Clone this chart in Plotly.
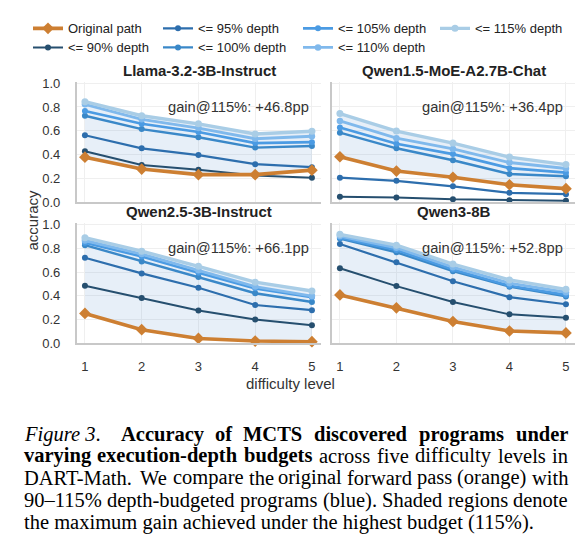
import plotly.graph_objects as go

W, H = 586, 559

# ---------------- data ----------------
levels = [1, 2, 3, 4, 5]
model_names = ["Llama-3.2-3B-Instruct", "Qwen1.5-MoE-A2.7B-Chat", "Qwen2.5-3B-Instruct", "Qwen3-8B"]
gain_labels = ["gain@115%: +46.8pp", "gain@115%: +36.4pp", "gain@115%: +66.1pp", "gain@115%: +52.8pp"]
original_name = "Original path"
budget_names = ["<= 90% depth", "<= 95% depth", "<= 100% depth", "<= 105% depth", "<= 110% depth", "<= 115% depth"]

llama_original = [0.377, 0.277, 0.230, 0.230, 0.268]
llama_90 = [0.427, 0.312, 0.271, 0.222, 0.203]
llama_95 = [0.562, 0.452, 0.395, 0.318, 0.293]
llama_100 = [0.726, 0.614, 0.545, 0.458, 0.471]
llama_105 = [0.767, 0.658, 0.589, 0.496, 0.504]
llama_110 = [0.822, 0.696, 0.622, 0.532, 0.553]
llama_115 = [0.845, 0.726, 0.658, 0.573, 0.595]

qwen15_original = [0.381, 0.260, 0.208, 0.145, 0.112]
qwen15_90 = [0.044, 0.038, 0.022, 0.014, 0.011]
qwen15_95 = [0.205, 0.178, 0.132, 0.077, 0.066]
qwen15_100 = [0.584, 0.452, 0.351, 0.236, 0.216]
qwen15_105 = [0.627, 0.490, 0.403, 0.285, 0.247]
qwen15_110 = [0.682, 0.537, 0.447, 0.332, 0.282]
qwen15_115 = [0.745, 0.597, 0.496, 0.378, 0.315]

qwen25_original = [0.252, 0.115, 0.041, 0.019, 0.014]
qwen25_90 = [0.485, 0.381, 0.277, 0.200, 0.153]
qwen25_95 = [0.721, 0.589, 0.468, 0.323, 0.279]
qwen25_100 = [0.827, 0.690, 0.559, 0.422, 0.348]
qwen25_105 = [0.847, 0.732, 0.595, 0.463, 0.389]
qwen25_110 = [0.866, 0.752, 0.615, 0.478, 0.398]
qwen25_115 = [0.890, 0.776, 0.649, 0.515, 0.441]

qwen3_original = [0.408, 0.299, 0.184, 0.104, 0.088]
qwen3_90 = [0.633, 0.482, 0.348, 0.244, 0.216]
qwen3_95 = [0.836, 0.682, 0.523, 0.389, 0.329]
qwen3_100 = [0.882, 0.767, 0.608, 0.477, 0.395]
qwen3_105 = [0.890, 0.786, 0.622, 0.485, 0.408]
qwen3_110 = [0.904, 0.805, 0.641, 0.507, 0.430]
qwen3_115 = [0.918, 0.827, 0.668, 0.534, 0.455]

originals = [llama_original, qwen15_original, qwen25_original, qwen3_original]
budget_series = [
    [llama_90, llama_95, llama_100, llama_105, llama_110, llama_115],
    [qwen15_90, qwen15_95, qwen15_100, qwen15_105, qwen15_110, qwen15_115],
    [qwen25_90, qwen25_95, qwen25_100, qwen25_105, qwen25_110, qwen25_115],
    [qwen3_90, qwen3_95, qwen3_100, qwen3_105, qwen3_110, qwen3_115],
]

y_ticks = [0.0, 0.2, 0.4, 0.6, 0.8, 1.0]

caption_lines = [
    [("Figure 3", "i"), ("Accuracy", "b"), ("of", "b"), ("MCTS", "b"), ("discovered", "b"), ("programs", "b"), ("under", "b")],
    [("varying", "b"), ("execution-depth", "b"), ("budgets", "b"), ("across", "r"), ("five", "r"),
     ("difficulty", "r"), ("levels", "r"), ("in", "r")],
    [("DART-Math.", "r"), ("We", "r"), ("compare", "r"), ("the", "r"), ("original", "r"), ("forward", "r"),
     ("pass", "r"), ("(orange)", "r"), ("with", "r")],
    [("90–115%", "r"), ("depth-budgeted", "r"), ("programs", "r"), ("(blue).", "r"), ("Shaded", "r"),
     ("regions", "r"), ("denote", "r")],
    [("the maximum gain achieved under the highest budget (115%).", "r")],
]

# ---------------- styles ----------------
SANS = "Liberation Sans"
SERIF = "Liberation Serif"
ORANGE = "#cd7f32"
BLUE_COLORS = ["#264f6f", "#2d6ead", "#3a88c8", "#4b9be3", "#80b9ec", "#a9cde6"]
BLUE_WIDTHS = [2.0, 2.2, 2.4, 2.6, 2.9, 3.4]
BLUE_MSIZE = [6, 6, 6, 6, 6.5, 7]
FILL = "rgba(96,150,205,0.15)"
GRID = "#efefef"
SPINE = "#c8c8c8"

XD = [[77 / W, 321 / W], [332 / W, 575 / W]]
YD = [[1 - 201 / H, 1 - 78 / H], [1 - 346 / H, 1 - 223 / H]]

fig = go.Figure()

legend_order = [original_name] + budget_names
LEG_TEXT_X = [68, 198, 338, 475]
LEG_ROW_Y = [23, 42.5]


def legend_key(name):
    k = legend_order.index(name)
    return "legend" if k == 0 else f"legend{k + 1}"


for i in range(4):
    xr = "x" if i == 0 else f"x{i + 1}"
    yr = "y" if i == 0 else f"y{i + 1}"
    orig = originals[i]
    top = budget_series[i][-1]
    # shaded gain region
    fig.add_trace(go.Scatter(x=levels, y=orig, mode="lines", line=dict(width=0, color=FILL),
                             showlegend=False, hoverinfo="skip", xaxis=xr, yaxis=yr))
    fig.add_trace(go.Scatter(x=levels, y=top, mode="lines", line=dict(width=0, color=FILL),
                             fill="tonexty", fillcolor=FILL, showlegend=False, hoverinfo="skip",
                             xaxis=xr, yaxis=yr))
    for b, name in enumerate(budget_names):
        fig.add_trace(go.Scatter(
            x=levels, y=budget_series[i][b], mode="lines+markers", name=name,
            line=dict(color=BLUE_COLORS[b], width=BLUE_WIDTHS[b]),
            marker=dict(color=BLUE_COLORS[b], size=BLUE_MSIZE[b], symbol="circle"),
            showlegend=(i == 0), legend=legend_key(name), cliponaxis=False,
            xaxis=xr, yaxis=yr))
    fig.add_trace(go.Scatter(
        x=levels, y=orig, mode="lines+markers", name=original_name,
        line=dict(color=ORANGE, width=3.6),
        marker=dict(color=ORANGE, size=9, symbol="diamond"),
        showlegend=(i == 0), legend=legend_key(original_name), cliponaxis=False,
        xaxis=xr, yaxis=yr))

layout = dict(
    width=W, height=H, margin=dict(l=0, r=0, t=0, b=0),
    paper_bgcolor="white", plot_bgcolor="white",
    font=dict(family=SANS, size=13, color="#333"),
    showlegend=True,
)

for i in range(4):
    r, c = divmod(i, 2)
    xa = "xaxis" if i == 0 else f"xaxis{i + 1}"
    ya = "yaxis" if i == 0 else f"yaxis{i + 1}"
    layout[xa] = dict(
        domain=XD[c], anchor=("y" if i == 0 else f"y{i + 1}"), range=[0.86, 5.16],
        tickvals=levels, ticktext=[str(v) for v in levels], showticklabels=(r == 1),
        showgrid=True, gridcolor=GRID, gridwidth=1, zeroline=False,
        showline=True, linecolor=SPINE, linewidth=2.2, ticks="",
        tickfont=dict(family=SANS, size=13, color="#333"), ticklabelstandoff=10,
    )
    layout[ya] = dict(
        domain=YD[r], anchor=("x" if i == 0 else f"x{i + 1}"), range=[0, 1.01],
        tickvals=y_ticks, ticktext=[f"{v:.1f}" for v in y_ticks], showticklabels=(c == 0),
        showgrid=True, gridcolor=GRID, gridwidth=1, zeroline=False,
        showline=True, linecolor=SPINE, linewidth=2.2, ticks="",
        tickfont=dict(family=SANS, size=13, color="#333"), ticklabelstandoff=12,
    )

for k, name in enumerate(legend_order):
    col, row = divmod(k, 2)
    layout[legend_key(name)] = dict(
        x=(LEG_TEXT_X[col] - 40) / W, xanchor="left",
        y=1 - LEG_ROW_Y[row] / H, yanchor="middle",
        orientation="v", bgcolor="rgba(0,0,0,0)", borderwidth=0,
        font=dict(family=SANS, size=13, color="#222"), itemwidth=30,
    )

annotations = []
for i in range(4):
    r, c = divmod(i, 2)
    xd = "x domain" if i == 0 else f"x{i + 1} domain"
    yd = "y domain" if i == 0 else f"y{i + 1} domain"
    yr = "y" if i == 0 else f"y{i + 1}"
    annotations.append(dict(text=f"<b>{model_names[i]}</b>", xref=xd, yref=yd, x=0.5, y=1.0,
                            xanchor="center", yanchor="bottom", yshift=1, showarrow=False,
                            font=dict(family=SANS, size=15, color="#222")))
    annotations.append(dict(text=gain_labels[i], xref=xd, yref=yr, x=0.96, y=0.80,
                            xanchor="right", yanchor="middle", showarrow=False,
                            font=dict(family=SANS, size=14.7, color="#333")))

annotations.append(dict(text="difficulty level", xref="paper", yref="paper", x=290 / W, y=1 - 387 / H,
                        xanchor="center", yanchor="middle", showarrow=False,
                        font=dict(family=SANS, size=15, color="#333")))
annotations.append(dict(text="accuracy", xref="paper", yref="paper", x=32 / W, y=1 - 220 / H,
                        xanchor="center", yanchor="middle", textangle=-90, showarrow=False,
                        font=dict(family=SANS, size=15, color="#333")))

# ---------------- caption (justified, Times metrics) ----------------
REG = {' ': 250, '%': 833, '(': 333, ')': 333, '-': 333, '.': 250, '–': 500,
       'A': 722, 'D': 722, 'M': 889, 'R': 667, 'S': 556, 'T': 611, 'W': 944,
       'a': 444, 'b': 500, 'c': 444, 'd': 500, 'e': 444, 'f': 333, 'g': 500, 'h': 500,
       'i': 278, 'l': 278, 'm': 778, 'n': 500, 'o': 500, 'p': 500, 'r': 333, 's': 389,
       't': 278, 'u': 500, 'v': 500, 'w': 722, 'x': 500, 'y': 500}
BOLD = {' ': 250, '-': 333, 'A': 722, 'C': 722, 'M': 944, 'S': 556, 'T': 667,
        'a': 500, 'b': 556, 'c': 444, 'd': 556, 'e': 444, 'f': 333, 'g': 500, 'h': 556,
        'i': 278, 'm': 833, 'n': 556, 'o': 500, 'p': 556, 'r': 444, 's': 389, 't': 333,
        'u': 556, 'v': 500, 'x': 500, 'y': 500}
ITAL = {' ': 250, '3': 500, '.': 250, 'F': 611, 'i': 278, 'g': 500, 'u': 500, 'r': 389, 'e': 444}
TABLES = {'r': REG, 'b': BOLD, 'i': ITAL}

CAP_SIZE = 20.5
CAP_LEFT, CAP_RIGHT = 21.7, 566.0
CAP_ROWS = [439, 461.5, 484, 507, 530]


def tw(text, style):
    t = TABLES[style]
    return sum(t.get(ch, 500) for ch in text) * CAP_SIZE / 1000.0


def styled(text, style):
    if style == "b":
        return f"<b>{text}</b>"
    if style == "i":
        return f"<i>{text}</i>."
    return text


def cap_ann(text, xpx, ypx):
    return dict(text=text, xref="paper", yref="paper", x=xpx / W, y=1 - ypx / H,
                xanchor="left", yanchor="middle", showarrow=False,
                font=dict(family=SERIF, size=CAP_SIZE, color="black"))


for li, words in enumerate(caption_lines):
    ypx = CAP_ROWS[li]
    start = CAP_LEFT
    if li == 0:
        annotations.append(cap_ann(styled(*words[0]), CAP_LEFT, ypx))
        start = CAP_LEFT + tw("Figure 3.", "i") + CAP_SIZE
        words = words[1:]
    if li == len(caption_lines) - 1:
        annotations.append(cap_ann(styled(*words[0]), start, ypx))
        continue
    total = sum(tw(w, s) for w, s in words)
    gap = (CAP_RIGHT - start - total) / (len(words) - 1)
    x = start
    for w, s in words:
        annotations.append(cap_ann(styled(w, s), x, ypx))
        x += tw(w, s) + gap

layout["annotations"] = annotations
fig.update_layout(**layout)
fig.write_html("out.html")
